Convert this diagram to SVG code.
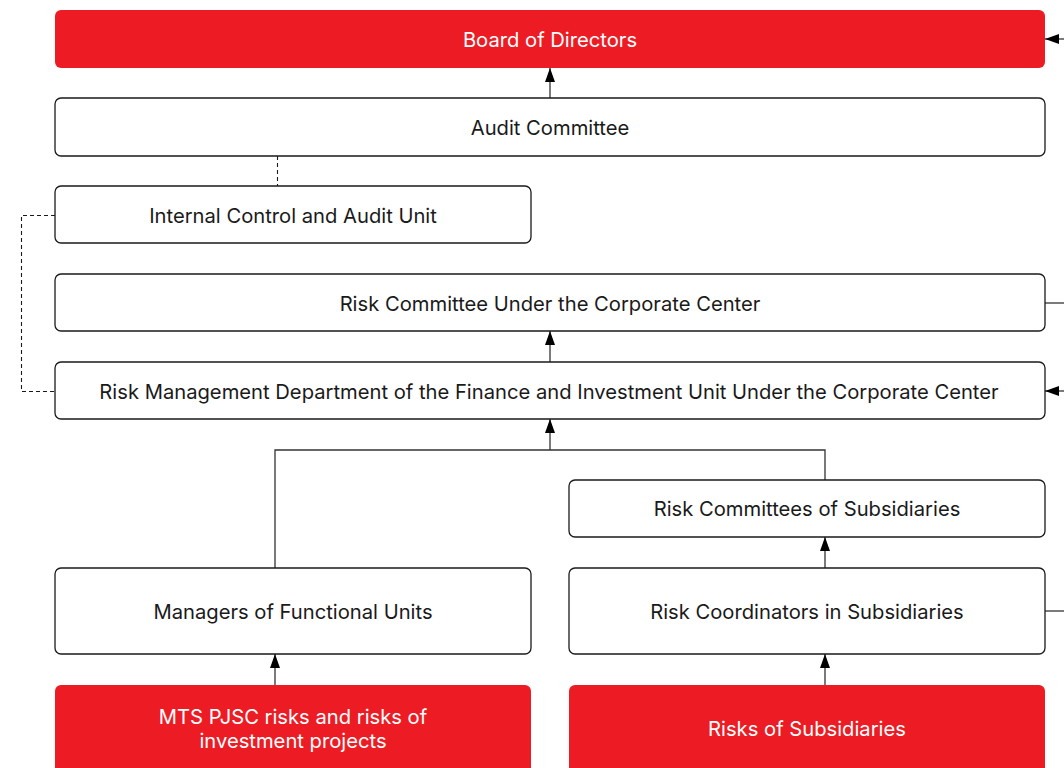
<svg xmlns="http://www.w3.org/2000/svg" width="1064" height="768" viewBox="0 0 1064 768">
<style>
.box{fill:#fff;stroke:#1a1a1a;stroke-width:1.3}
.red{fill:#ED1C24;stroke:none}
.t{font-family:Inter,Roboto,"Liberation Sans",sans-serif;font-size:20.2px;fill:#1a1a1a;text-anchor:middle;dominant-baseline:central}
.tw{fill:#fff}
.c{fill:none;stroke:#333;stroke-width:1.3}
.d{fill:none;stroke:#1a1a1a;stroke-width:1.1;stroke-dasharray:4 3}
</style>
<defs>
<marker id="a" viewBox="0 0 14 10" refX="14" refY="5" markerWidth="14" markerHeight="10" markerUnits="userSpaceOnUse" orient="auto">
<path d="M0,0 L14,5 L0,10 z" fill="#000"/>
</marker>
</defs>
<rect width="1064" height="768" fill="#fff"/>
<g id="connectors">
<path class="c" d="M550,98 V68" marker-end="url(#a)"/>
<path class="d" d="M277.5,156 V186"/>
<path class="d" d="M55,215.5 H21.5 V391.5 H55"/>
<path class="c" d="M550,362 V331" marker-end="url(#a)"/>
<path class="c" d="M275,568 V450 H825 V480"/>
<path class="c" d="M550,450 V419" marker-end="url(#a)"/>
<path class="c" d="M825,568 V537" marker-end="url(#a)"/>
<path class="c" d="M275,685 V654" marker-end="url(#a)"/>
<path class="c" d="M825,685 V654" marker-end="url(#a)"/>
<path class="c" d="M1045,303 H1064"/>
<path class="c" d="M1045,611 H1064"/>
<path class="c" d="M1070,39 H1045" marker-end="url(#a)"/>
<path class="c" d="M1070,391 H1045" marker-end="url(#a)"/>
</g>
<g id="board"><rect class="red" x="55" y="10" width="990" height="58" rx="6"/><text class="t tw" x="550" y="39">Board of Directors</text></g>
<g id="audit"><rect class="box" x="55" y="98" width="990" height="58" rx="6"/><text class="t" x="550" y="127">Audit Committee</text></g>
<g id="internal"><rect class="box" x="55" y="186" width="476" height="57" rx="6"/><text class="t" x="293" y="215">Internal Control and Audit Unit</text></g>
<g id="riskcommittee"><rect class="box" x="55" y="274" width="990" height="57" rx="6"/><text class="t" x="550" y="303">Risk Committee Under the Corporate Center</text></g>
<g id="riskmgmt"><rect class="box" x="55" y="362" width="990" height="57" rx="6"/><text class="t" x="549" y="391">Risk Management Department of the Finance and Investment Unit Under the Corporate Center</text></g>
<g id="riskcommsubs"><rect class="box" x="569" y="480" width="476" height="57" rx="6"/><text class="t" x="807" y="508">Risk Committees of Subsidiaries</text></g>
<g id="managers"><rect class="box" x="55" y="568" width="476" height="86" rx="6"/><text class="t" x="293" y="611">Managers of Functional Units</text></g>
<g id="coordinators"><rect class="box" x="569" y="568" width="476" height="86" rx="6"/><text class="t" x="807" y="611">Risk Coordinators in Subsidiaries</text></g>
<g id="mts"><rect class="red" x="55" y="685" width="476" height="100" rx="6"/><text class="t tw" x="293" y="716">MTS PJSC risks and risks of</text><text class="t tw" x="293" y="740">investment projects</text></g>
<g id="risksubs"><rect class="red" x="569" y="685" width="476" height="100" rx="6"/><text class="t tw" x="807" y="728">Risks of Subsidiaries</text></g>
</svg>
